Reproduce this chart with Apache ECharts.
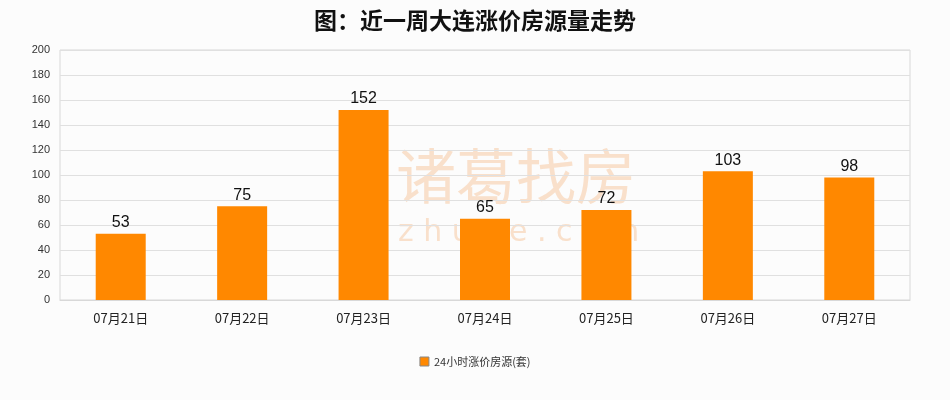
<!DOCTYPE html>
<html><head><meta charset="utf-8">
<script src="https://cdn.jsdelivr.net/npm/echarts@6/dist/echarts.min.js"></script>
<style>html,body{margin:0;padding:0;background:#fcfcfc;}#c{width:950px;height:400px;}</style>
</head><body><div id="c"></div>
<script>
const categories = ['07月21日','07月22日','07月23日','07月24日','07月25日','07月26日','07月27日'];
const values = [53, 75, 152, 65, 72, 103, 98];
const seriesName = '24小时涨价房源(套)';
const titleText = '图：近一周大连涨价房源量走势';

const chart = echarts.init(document.getElementById('c'));
chart.setOption({
  backgroundColor: '#fcfcfc',
  animation: false,
  title: {
    text: titleText, left: 'center', top: 4,
    textStyle: {fontSize: 23, fontWeight: 'bold', color: '#111', fontFamily: 'Noto Sans CJK SC'}
  },
  grid: {left: 60, right: 40, top: 50, bottom: 100, show: true, borderColor: '#d8d8d8', borderWidth: 1},
  graphic: [
    {type: 'text', left: 396, top: 146, z: -10, silent: true,
     style: {text: '诸葛找房', font: '60px "Noto Sans CJK SC"', fill: 'rgba(246,205,170,0.6)'}},
    {type: 'text', left: 398, top: 218, z: -10, silent: true,
     style: {text: 'z h u g e . c o m', font: '30px "DejaVu Sans"', fill: 'rgba(246,205,170,0.6)'}}
  ],
  legend: {
    bottom: 28, left: 'center', itemWidth: 9, itemHeight: 9, icon: 'rect',
    textStyle: {fontSize: 11, color: '#333', fontFamily: 'Noto Sans CJK SC'},
    data: [{name: seriesName, itemStyle: {borderColor: '#888', borderWidth: 1}}]
  },
  xAxis: {
    type: 'category', data: categories,
    axisLine: {lineStyle: {color: '#d8d8d8'}}, axisTick: {show: false},
    axisLabel: {color: '#222', fontSize: 13, margin: 12, fontFamily: 'Noto Sans CJK SC'}
  },
  yAxis: {
    type: 'value', min: 0, max: 200, interval: 20,
    axisLine: {show: false}, axisTick: {show: false},
    axisLabel: {color: '#333', fontSize: 11, margin: 10},
    splitLine: {lineStyle: {color: '#e0e0e0'}}
  },
  series: [{
    name: seriesName, type: 'bar', data: values, barWidth: 50, z: 3,
    itemStyle: {color: '#ff8800'},
    label: {show: true, position: 'top', color: '#111', fontSize: 16, distance: 3}
  }]
});
</script></body></html>
